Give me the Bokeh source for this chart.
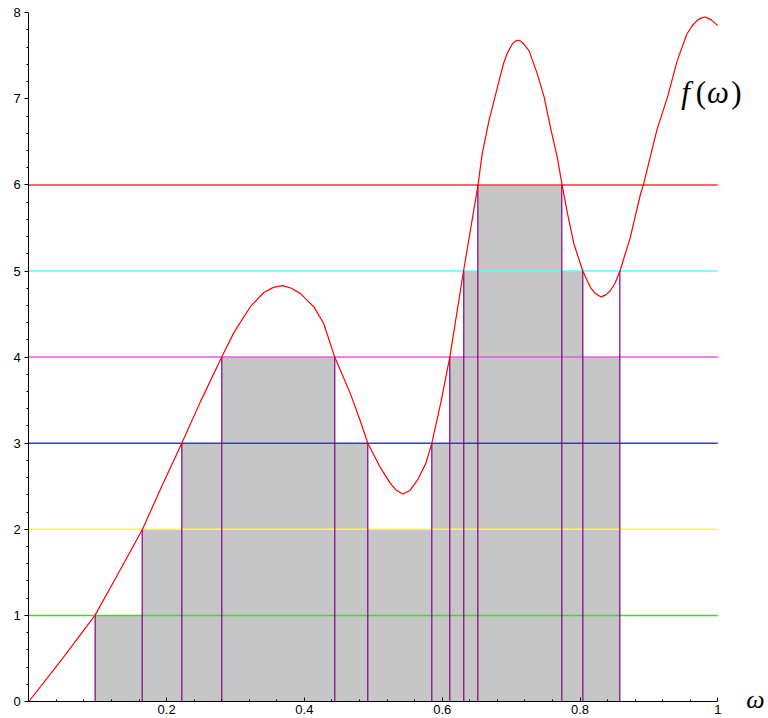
from bokeh.plotting import figure
from bokeh.models import Range1d, FixedTicker, Label
from bokeh.embed import file_html
from bokeh.resources import INLINE

# --- data ---
curve_x = [0.000, 0.048, 0.096, 0.128, 0.165, 0.193, 0.222, 0.249, 0.280, 0.298,
           0.322, 0.341, 0.355, 0.368, 0.381, 0.394, 0.414, 0.428, 0.444, 0.467,
           0.481, 0.492, 0.510, 0.525, 0.534, 0.543, 0.553, 0.564, 0.576, 0.585,
           0.598, 0.611, 0.631, 0.652, 0.658, 0.668, 0.680, 0.689, 0.694, 0.702,
           0.706, 0.710, 0.714, 0.718, 0.726, 0.738, 0.748, 0.757, 0.767, 0.774,
           0.782, 0.791, 0.804, 0.815, 0.822, 0.830, 0.837, 0.844, 0.851, 0.858,
           0.873, 0.888, 0.892, 0.912, 0.927, 0.941, 0.955, 0.962, 0.970, 0.976,
           0.982, 0.990, 1.000]
curve_y = [0.00, 0.49, 1.00, 1.46, 2.00, 2.50, 3.00, 3.48, 4.00, 4.29,
           4.59, 4.75, 4.81, 4.83, 4.80, 4.74, 4.58, 4.39, 4.00, 3.57,
           3.26, 3.00, 2.72, 2.53, 2.45, 2.41, 2.45, 2.57, 2.76, 3.00,
           3.47, 4.00, 5.00, 6.00, 6.36, 6.75, 7.13, 7.41, 7.52, 7.64,
           7.67, 7.68, 7.67, 7.64, 7.56, 7.29, 7.02, 6.67, 6.32, 6.00,
           5.66, 5.32, 5.00, 4.81, 4.74, 4.70, 4.72, 4.77, 4.86, 5.00,
           5.39, 5.90, 6.00, 6.65, 7.02, 7.44, 7.75, 7.84, 7.91, 7.94,
           7.95, 7.92, 7.85]

crossings = [0.0963, 0.1646, 0.2221, 0.2801, 0.4441, 0.4920, 0.5849,
             0.6110, 0.6313, 0.6517, 0.7736, 0.8041, 0.8578]
crossing_levels = [1, 2, 3, 4, 4, 3, 3, 4, 5, 6, 6, 5, 5]
bar_heights = [1, 2, 3, 4, 3, 2, 3, 4, 5, 6, 5, 4]

levels = [1, 2, 3, 4, 5, 6]
level_colors = ["#33dd33", "#ffff22", "#3333ff", "#ee55ee", "#55ffff", "#ff3333"]

x_ticks = [0.2, 0.4, 0.6, 0.8, 1]
x_tick_labels = ["0.2", "0.4", "0.6", "0.8", "1"]
x_minor = [0.04, 0.08, 0.12, 0.16, 0.24, 0.28, 0.32, 0.36, 0.44, 0.48, 0.52, 0.56,
           0.64, 0.68, 0.72, 0.76, 0.84, 0.88, 0.92, 0.96]
y_ticks = [0, 1, 2, 3, 4, 5, 6, 7, 8]
y_minor = [i / 5 for i in range(0, 41) if i % 5 != 0]

# frame covers the whole canvas; axes are pinned at 0
p = figure(width=768, height=718, output_backend="svg", toolbar_location=None,
           x_range=Range1d(-0.04107, 1.07358), y_range=Range1d(-0.19744, 8.1417),
           min_border_left=0, min_border_right=0, min_border_top=0, min_border_bottom=0)
p.outline_line_color = None
p.xgrid.visible = False
p.ygrid.visible = False

# bars of the simple function
p.quad(left=crossings[:-1], right=crossings[1:], bottom=0, top=bar_heights,
       fill_color="#c6c6c6", line_color=None)

# level lines
for lv, c in zip(levels, level_colors):
    p.line(x=[0, 1], y=[lv, lv], line_color=c, line_width=1.5)

# vertical edges
p.segment(x0=crossings, y0=[0] * len(crossings), x1=crossings, y1=crossing_levels,
          line_color="#800080", line_width=1.2)

# the function
p.line(x=curve_x, y=curve_y, line_color="#ff0000", line_width=1.2)

# axes
xa = p.xaxis[0]
xa.fixed_location = 0
xa.bounds = (0, 1)
xa.ticker = FixedTicker(ticks=x_ticks, minor_ticks=x_minor)
xa.major_label_overrides = {t: s for t, s in zip(x_ticks, x_tick_labels)}
xa.major_tick_in = 4
xa.major_tick_out = 0
xa.minor_tick_in = 2
xa.minor_tick_out = 0
xa.major_label_standoff = 3
ya = p.yaxis[0]
ya.fixed_location = 0
ya.bounds = (0, 8)
ya.ticker = FixedTicker(ticks=y_ticks, minor_ticks=y_minor)
ya.major_tick_in = 0
ya.major_tick_out = 4
ya.minor_tick_in = 0
ya.minor_tick_out = 2
ya.major_label_standoff = 4
for ax in (xa, ya):
    ax.axis_line_color = "black"
    ax.major_tick_line_color = "black"
    ax.minor_tick_line_color = "black"
    ax.major_label_text_font = "Liberation Sans"
    ax.major_label_text_font_size = "13px"
    ax.major_label_text_color = "black"

# f(ω) label and ω axis label
for tx, sx, style in [("f", 0.9531, "italic"), ("(", 0.9756, "normal"),
                      ("ω", 1.0003, "italic"), (")", 1.0271, "normal")]:
    p.add_layout(Label(x=sx, y=7.073, text=tx, text_font="Liberation Serif",
                       text_font_style=style, text_font_size="31px",
                       text_align="center", text_baseline="alphabetic",
                       text_color="black"))
p.add_layout(Label(x=1.0547, y=0.023, text="ω", text_font="Liberation Serif",
                   text_font_style="italic", text_font_size="26px",
                   text_align="center", text_baseline="middle", text_color="black"))

open("out.html", "w").write(file_html(p, INLINE))
